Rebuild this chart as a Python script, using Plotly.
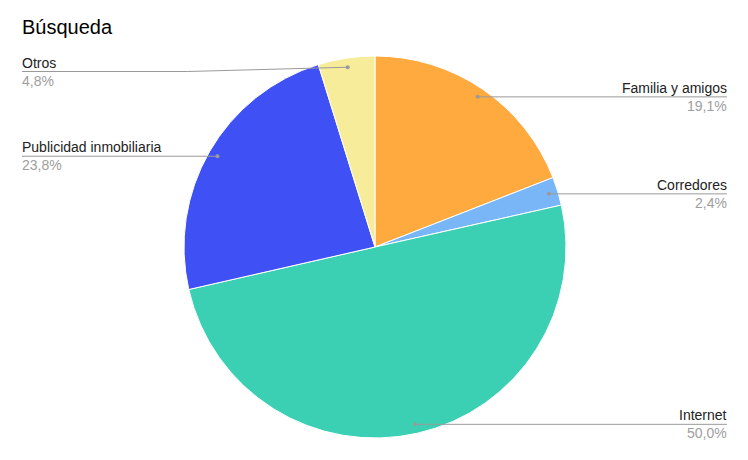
import math
import plotly.graph_objects as go

W, H = 748, 460
OFF = 8  # page body margin of the browser

title = "Búsqueda"
categories = ["Familia y amigos", "Corredores", "Internet", "Publicidad inmobiliaria", "Otros"]
values = [19.1, 2.4, 50.0, 23.8, 4.8]
pct_labels = ["19,1%", "2,4%", "50,0%", "23,8%", "4,8%"]
colors = ["#FFAA3F", "#78B6F8", "#3BD0B3", "#3F50F4", "#F6EC9A"]

# pie geometry in screen pixels
cx, cy, R = 375 - OFF, 247 - OFF, 191
dom_x = [(cx - R) / W, (cx + R) / W]
dom_y = [(H - cy - R) / H, (H - cy + R) / H]

fig = go.Figure()
fig.add_trace(go.Pie(
    labels=categories, values=values, sort=False, direction="clockwise",
    rotation=0, marker=dict(colors=colors, line=dict(color="white", width=1)),
    textinfo="none", showlegend=False, domain=dict(x=dom_x, y=dom_y),
    hovertemplate="%{label}<br>%{value}%<extra></extra>",
))

def px(x):
    return x / W

def py(y):
    return 1 - y / H

FONT = "Liberation Sans, Arial"
shapes = []
annotations = []
total = sum(values)
cum = 0.0
line_col = "#9a9a9a"
for cat, v, pl in zip(categories, values, pct_labels):
    mid = (cum + v / 2) / total * 2 * math.pi
    cum += v
    r = 0.952 * R
    dx = cx + r * math.sin(mid)
    dy = cy - r * math.cos(mid)
    right = math.sin(mid) >= 0
    ly = max(dy, 71.5 - OFF)
    x_end = (727 - OFF) if right else (22 - OFF)
    text_x = x_end + 2 if right else x_end - 2
    bend_x = dx - 160 if (not right and ly != dy) else dx
    if ly != dy:
        shapes.append(dict(type="line", xref="paper", yref="paper",
                           x0=px(dx), y0=py(dy), x1=px(bend_x), y1=py(ly),
                           line=dict(color=line_col, width=1)))
    shapes.append(dict(type="line", xref="paper", yref="paper",
                       x0=px(bend_x), y0=py(ly), x1=px(x_end), y1=py(ly),
                       line=dict(color=line_col, width=1)))
    shapes.append(dict(type="circle", xref="paper", yref="paper",
                       x0=px(dx - 2), y0=py(dy - 2), x1=px(dx + 2), y1=py(dy + 2),
                       fillcolor=line_col, line=dict(width=0)))
    anchor = "right" if right else "left"
    annotations.append(dict(text=cat, xref="paper", yref="paper", x=px(text_x), y=py(ly + 1),
                            xanchor=anchor, yanchor="bottom", showarrow=False,
                            font=dict(family=FONT, size=14, color="#222222")))
    annotations.append(dict(text=pl, xref="paper", yref="paper", x=px(text_x), y=py(ly - 1),
                            xanchor=anchor, yanchor="top", showarrow=False,
                            font=dict(family=FONT, size=14, color="#9e9e9e")))

annotations.append(dict(text=title, xref="paper", yref="paper", x=px(20 - OFF), y=py(14 - OFF),
                        xanchor="left", yanchor="top", showarrow=False,
                        font=dict(family=FONT, size=20, color="#000000")))

fig.update_layout(width=W, height=H, margin=dict(l=0, r=0, t=0, b=0),
                  paper_bgcolor="white", plot_bgcolor="white",
                  shapes=shapes, annotations=annotations)

fig.write_html("out.html")
